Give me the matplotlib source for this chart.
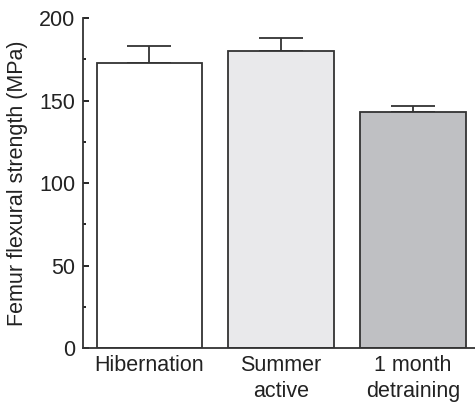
import matplotlib
matplotlib.use("Agg")
import matplotlib.pyplot as plt
from matplotlib.ticker import MultipleLocator

categories = ["Hibernation", "Summer\nactive", "1 month\ndetraining"]
values = [173, 180, 143]
errors = [10, 8, 3.5]
colors = ["#ffffff", "#e9e9eb", "#bfc0c3"]

plt.rcParams['font.family'] = ['Liberation Sans', 'DejaVu Sans']
fig = plt.figure(figsize=(4.75, 4.04), dpi=100)
ax = fig.add_axes([0.1755, 0.138, 0.8245, 0.817])

x = list(range(len(categories)))
ax.bar(x, values, width=0.8, color=colors, edgecolor="#333333", linewidth=1.3, zorder=2)
ax.errorbar(x, values, yerr=[[0]*len(values), errors], fmt="none", ecolor="#333333",
            elinewidth=1.3, capsize=16, capthick=1.3, zorder=1)

ax.set_xlim(-0.5, 2.47)
ax.set_ylim(0, 200)
ax.yaxis.set_major_locator(MultipleLocator(50))
ax.yaxis.set_minor_locator(MultipleLocator(25))
ax.set_xticks(x)
ax.set_xticklabels(categories, fontsize=15.5, linespacing=1.3, color="#222222")
ax.tick_params(axis="x", length=0, pad=5)
ax.tick_params(axis="y", which="major", length=4, width=1.2, labelsize=15.5,
               direction="in", pad=6, labelcolor="#222222")
ax.tick_params(axis="y", which="minor", length=2.5, width=1.2, direction="in")
for s in ["top", "right"]:
    ax.spines[s].set_visible(False)
for s in ["left", "bottom"]:
    ax.spines[s].set_linewidth(1.3)
    ax.spines[s].set_color("#333333")
ax.set_ylabel("Femur flexural strength (MPa)", fontsize=15.5, labelpad=8, color="#222222")

fig.savefig("out.png", dpi=100)
